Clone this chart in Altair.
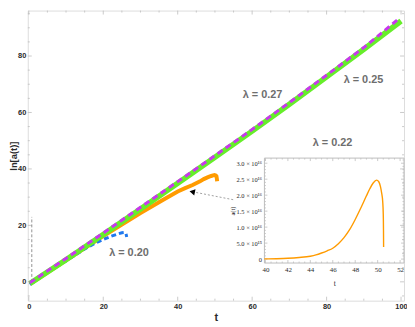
import altair as alt
import pandas as pd

# ---------------- data ----------------
# lambda = 0.25 (green, solid)
t_green = [0.3, 10, 20, 30, 40, 50, 60, 70, 80, 90, 100]
lna_green = [-0.6, 7.8, 16.8, 25.8, 34.9, 44.1, 53.4, 62.9, 72.6, 82.4, 92.4]
# lambda = 0.27 (magenta, dashed)
t_mag = [0.3, 10, 20, 30, 40, 50, 60, 70, 80, 90, 99.5]
lna_mag = [-0.3, 8.3, 17.3, 26.4, 35.5, 44.7, 54.0, 63.5, 73.2, 83.0, 93.3]
# lambda = 0.22 (orange, solid)
t_orange = [0.3, 10, 20, 25, 30, 33, 36, 40, 42, 44, 46, 47, 48, 49, 49.5, 49.9, 50.2, 50.4, 50.5, 50.6]
lna_orange = [-0.8, 7.6, 16.2, 20.3, 24.4, 26.7, 29.0, 32.0, 33.2, 34.3, 35.6, 36.4, 37.0, 37.5, 37.7, 37.8, 37.7, 37.4, 36.7, 35.6]
# lambda = 0.20 (blue, dashed)
t_blue = [0.3, 5, 10, 14, 16, 18, 20, 22, 24, 25, 25.7, 26.1, 26.3]
lna_blue = [-1.0, 3.4, 7.4, 10.8, 12.4, 13.8, 15.0, 16.1, 17.0, 17.4, 17.5, 17.1, 15.9]

# inset: a(t) for lambda = 0.22, in units of 1e16
t_inset = [39.9, 41, 42, 43, 44, 44.5, 45, 45.5, 46, 46.5, 47, 47.5, 48, 48.5, 49, 49.3, 49.6,
           49.9, 50.1, 50.25, 50.35, 50.45, 50.5, 50.52, 50.53]
a_inset = [0.005, 0.012, 0.025, 0.05, 0.09, 0.13, 0.19, 0.26, 0.34, 0.48, 0.67, 0.92, 1.24, 1.6,
           1.98, 2.2, 2.38, 2.47, 2.42, 2.27, 2.08, 1.8, 1.4, 0.9, 0.38]

# curve labels
label_text = ["λ = 0.27", "λ = 0.25", "λ = 0.22", "λ = 0.20"]
label_t = [62.8, 89.9, 81.6, 26.9]
label_v = [66.3, 71.6, 49.1, 10.2]

# annotation: vertical dashed marker and arrow to the orange curve
vline_t = [0.8]
vline_v0 = [0.0]
vline_v1 = [23.0]
arrow_t = [54.9, 44.4]
arrow_v = [29.1, 31.8]
arrowhead_t = [43.9]
arrowhead_v = [31.9]

# ticks
main_x_ticks = [0, 20, 40, 60, 80, 100]
main_x_minor = [v for v in range(5, 100, 5) if v % 20]
main_y_ticks = [0, 20, 40, 60, 80]
main_y_minor = [v for v in range(-5, 96, 5) if v % 20]
inset_x_ticks = [40, 42, 44, 46, 48, 50, 52]
inset_x_minor = [40.5 + 0.5 * i for i in range(24) if (40.5 + 0.5 * i) % 2]
inset_y_ticks = [0, 0.5, 1.0, 1.5, 2.0, 2.5, 3.0]
inset_y_minor = [round(0.1 * i, 1) for i in range(1, 32) if i % 5]

# ---------------- styling ----------------
W, H = 380, 293
FRAME = "#bdbdbd"
TXT = "#2a2a2a"
SANS = "Liberation Sans"
SERIF = "Liberation Serif"
GREEN = "#66EE2A"
MAGENTA = "#C836EE"
ORANGE = "#FF9B00"
BLUE = "#1F78EE"

sx = alt.Scale(domain=[-0.27, 100.8], nice=False, zero=False)
sy = alt.Scale(domain=[-6.67, 96.1], nice=False, zero=False)

ax_x = alt.Axis(title="t", values=main_x_ticks, format="d", ticks=False, domain=False, grid=False,
                labelFont=SANS, labelFontWeight="bold", labelFontSize=7.5, labelColor=TXT,
                labelPadding=2, titleFont=SANS, titleFontWeight="bold", titleFontSize=11,
                titleColor=TXT, titleY=17, titleBaseline="middle")
ax_y = alt.Axis(title="ln[a(t)]", values=main_y_ticks, format="d", ticks=False, domain=False, grid=False,
                labelFont=SANS, labelFontWeight="bold", labelFontSize=7.5, labelColor=TXT,
                labelPadding=2, titleFont=SANS, titleFontWeight="bold", titleFontSize=9.5,
                titleColor=TXT, titleAngle=270, titleX=-14.5, titleBaseline="middle")

X = alt.X("t:Q", scale=sx, axis=ax_x)
Y = alt.Y("v:Q", scale=sy, axis=ax_y)


def series(ts, vs):
    return pd.DataFrame({"t": ts, "v": vs, "o": list(range(len(ts)))})


orange = alt.Chart(series(t_orange, lna_orange)).mark_line(color=ORANGE, strokeWidth=4, strokeCap="butt").encode(x=X, y=Y, order="o:Q")
blue = alt.Chart(series(t_blue, lna_blue)).mark_line(color=BLUE, strokeWidth=3, strokeDash=[5, 3]).encode(x=X, y=Y, order="o:Q")
green = alt.Chart(series(t_green, lna_green)).mark_line(color=GREEN, strokeWidth=5.5).encode(x=X, y=Y, order="o:Q")
magenta = alt.Chart(series(t_mag, lna_mag)).mark_line(color=MAGENTA, strokeWidth=3, strokeDash=[6, 4]).encode(x=X, y=Y, order="o:Q")

vline = alt.Chart(pd.DataFrame({"t": vline_t, "v": vline_v0, "v2": vline_v1})).mark_rule(
    color="#777777", strokeWidth=0.8, strokeDash=[3, 2]).encode(x=X, y=Y, y2="v2:Q")
arrow = alt.Chart(series(arrow_t, arrow_v)).mark_line(color="#888888", strokeWidth=0.8, strokeDash=[2, 2]).encode(x=X, y=Y, order="o:Q")
arrowhead = alt.Chart(series(arrowhead_t, arrowhead_v)).mark_point(
    shape="triangle-left", filled=True, color="black", size=40, angle=12, opacity=1).encode(x=X, y=Y)

labels = alt.Chart(pd.DataFrame({"t": label_t, "v": label_v, "txt": label_text})).mark_text(
    font=SANS, fontWeight="bold", fontSize=11, color="#6e6e6e").encode(x=X, y=Y, text="txt:N")


def xticks(vals, y0, y1, scale, axis, color):
    return alt.Chart(pd.DataFrame({"t": vals})).mark_rule(color=color, strokeWidth=0.8).encode(
        x=alt.X("t:Q", scale=scale, axis=axis), y=alt.value(y0), y2=alt.value(y1))


def yticks(vals, x0, x1, scale, axis, color):
    return alt.Chart(pd.DataFrame({"v": vals})).mark_rule(color=color, strokeWidth=0.8).encode(
        y=alt.Y("v:Q", scale=scale, axis=axis), x=alt.value(x0), x2=alt.value(x1))


main_ticks = [
    xticks(main_x_ticks, H, H - 4, sx, ax_x, FRAME), xticks(main_x_minor, H, H - 2, sx, ax_x, FRAME),
    xticks(main_x_ticks, 0, 4, sx, ax_x, FRAME), xticks(main_x_minor, 0, 2, sx, ax_x, FRAME),
    yticks(main_y_ticks, 0, 4, sy, ax_y, FRAME), yticks(main_y_minor, 0, 2, sy, ax_y, FRAME),
    yticks(main_y_ticks, W, W - 4, sy, ax_y, FRAME), yticks(main_y_minor, W, W - 2, sy, ax_y, FRAME),
]

main = alt.layer(*main_ticks, vline, orange, blue, green, magenta, arrow, arrowhead, labels)

# ---------------- inset ----------------
IX0, IX1 = 239, 380
IY0, IY1 = 149, 255
six = alt.Scale(domain=[39.91, 52.35], range=[IX0, IX1], nice=False, zero=False)
siy = alt.Scale(domain=[-0.124, 3.16], range=[IY1, IY0], nice=False, zero=False)

iax_x = alt.Axis(title="t", orient="bottom", offset=-(H - IY1), values=inset_x_ticks, format="d",
                 ticks=False, domain=False, grid=False, labelFont=SERIF, labelFontSize=7,
                 labelColor=TXT, labelPadding=3, titleFont=SERIF, titleFontSize=7.5,
                 titleFontWeight="normal", titleColor=TXT, titleY=21, titleBaseline="middle")
iax_y = alt.Axis(title="a(t)", orient="left", offset=-IX0, values=inset_y_ticks,
                 labelExpr="datum.value == 0 ? '0' : (datum.value == 0.5 ? '5.0 × 10¹⁵' : format(datum.value, '.1f') + ' × 10¹⁶')",
                 ticks=False, domain=False, grid=False, labelFont=SERIF, labelFontSize=6.5,
                 labelColor=TXT, labelPadding=3, titleFont=SERIF, titleFontSize=6.5,
                 titleFontWeight="normal", titleColor=TXT, titleAngle=270, titleX=-32,
                 titleBaseline="middle")

IXE = alt.X("t:Q", scale=six, axis=iax_x)
IYE = alt.Y("v:Q", scale=siy, axis=iax_y)

inset_curve = alt.Chart(series(t_inset, a_inset)).mark_line(
    color=ORANGE, strokeWidth=1.4, interpolate="monotone").encode(x=IXE, y=IYE, order="o:Q")
inset_frame = alt.Chart(alt.Data(values=[{}])).mark_rect(fillOpacity=0, stroke=FRAME, strokeWidth=1).encode(
    x=alt.value(IX0), x2=alt.value(IX1), y=alt.value(IY0), y2=alt.value(IY1))

inset_ticks = [
    xticks(inset_x_ticks, IY1, IY1 - 3, six, iax_x, FRAME), xticks(inset_x_minor, IY1, IY1 - 1.5, six, iax_x, FRAME),
    xticks(inset_x_ticks, IY0, IY0 + 3, six, iax_x, FRAME), xticks(inset_x_minor, IY0, IY0 + 1.5, six, iax_x, FRAME),
    yticks(inset_y_ticks, IX0, IX0 + 3, siy, iax_y, FRAME), yticks(inset_y_minor, IX0, IX0 + 1.5, siy, iax_y, FRAME),
    yticks(inset_y_ticks, IX1, IX1 - 3, siy, iax_y, FRAME), yticks(inset_y_minor, IX1, IX1 - 1.5, siy, iax_y, FRAME),
]

inset = alt.layer(inset_frame, *inset_ticks, inset_curve)

chart = alt.layer(main, inset).resolve_scale(x="independent", y="independent").properties(
    width=W, height=H, autosize="none",
    padding={"left": 20, "top": 1, "right": 3, "bottom": 25},
).configure_view(stroke=FRAME, strokeWidth=1).configure(background="white")

chart.save("out.html", embed_options={"renderer": "svg", "actions": False})
